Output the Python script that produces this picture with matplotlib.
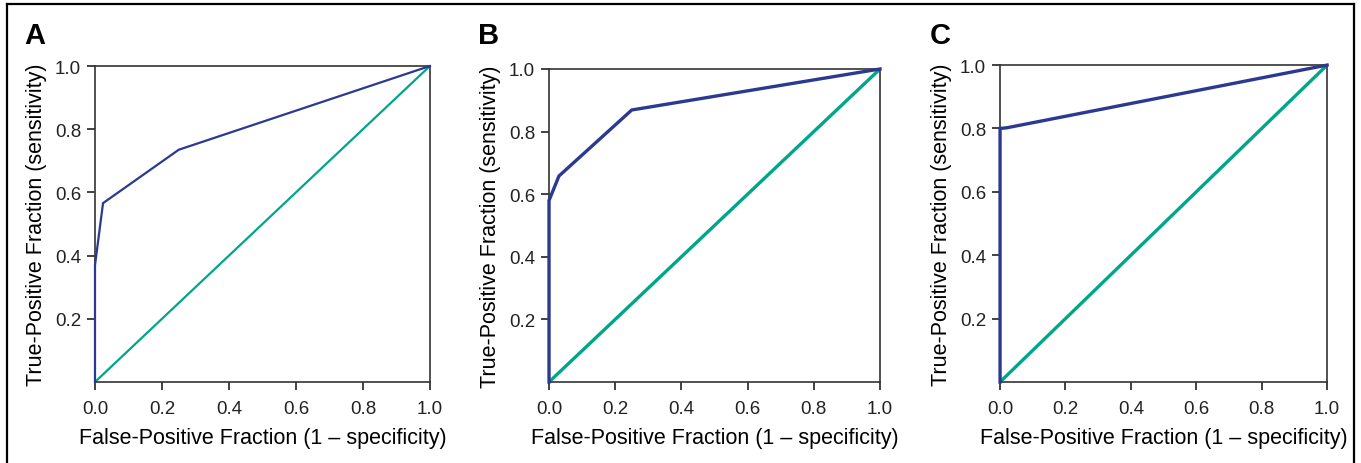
import matplotlib
matplotlib.use("Agg")
from matplotlib import pyplot as plt
from matplotlib.lines import Line2D

plt.rcParams['font.family'] = ['Liberation Sans Narrow', 'Liberation Sans', 'DejaVu Sans']

# ROC curve points
fpr_a = [0.0, 0.0, 0.024, 0.25, 1.0]
tpr_a = [0.0, 0.37, 0.566, 0.735, 1.0]
fpr_b = [0.0, 0.0, 0.03, 0.25, 1.0]
tpr_b = [0.0, 0.58, 0.658, 0.869, 1.0]
fpr_c = [0.0, 0.0, 0.02, 1.0]
tpr_c = [0.0, 0.80, 0.802, 1.0]
panels = ["A", "B", "C"]

x_ticks = [0.0, 0.2, 0.4, 0.6, 0.8, 1.0]
y_ticks = [0.2, 0.4, 0.6, 0.8, 1.0]

navy = "#2b3990"
teal = "#00a68a"

fig = plt.figure(figsize=(13.61, 4.64), dpi=100)

# axes rectangles (left, bottom, width, height) in figure fractions
rects = [
    (0.0698, 0.1746, 0.2461, 0.681),
    (0.4034, 0.1746, 0.2432, 0.6746),
    (0.7348, 0.1746, 0.2403, 0.683),
]
curves = [(fpr_a, tpr_a, 1.6), (fpr_b, tpr_b, 2.4), (fpr_c, tpr_c, 2.4)]
letter_x = [0.018, 0.351, 0.683]

for rect, (fx, ty, lw), name, lx in zip(rects, curves, panels, letter_x):
    ax = fig.add_axes(rect)
    ax.plot([0, 1], [0, 1], color=teal, lw=lw, solid_capstyle="butt")
    ax.plot(fx, ty, color=navy, lw=lw, solid_joinstyle="miter", clip_on=False,
            zorder=3)
    ax.set_xlim(0, 1)
    ax.set_ylim(0, 1)
    ax.set_xticks(x_ticks)
    ax.set_xticklabels([f"{v:.1f}" for v in x_ticks])
    ax.set_yticks(y_ticks)
    ax.set_yticklabels([f"{v:.1f}" for v in y_ticks])
    ax.tick_params(direction="out", length=6, width=1.2, labelsize=13.5,
                   colors="#222222")
    ax.tick_params(axis="x", pad=7)
    ax.tick_params(axis="y", pad=4)
    for s in ax.spines.values():
        s.set_linewidth(1.2)
        s.set_color("#333333")
    ax.set_xlabel("False-Positive Fraction (1 \u2013 specificity)", fontsize=15.5,
                  labelpad=7)
    ax.set_ylabel("True-Positive Fraction (sensitivity)", fontsize=15.5,
                  labelpad=6)
    fig.text(lx, 0.905, name, fontsize=21, fontweight="bold",
             family=['Liberation Sans', 'DejaVu Sans'], va="baseline")

# outer frame (bottom edge falls outside the image)
l, r, t = 0.0051, 0.9949, 0.989
for xs, ys in [([l, l], [-0.1, t]), ([l, r], [t, t]), ([r, r], [t, -0.1])]:
    fig.add_artist(Line2D(xs, ys, color="black", lw=1.6,
                          transform=fig.transFigure))

fig.savefig("out.png", dpi=100)
